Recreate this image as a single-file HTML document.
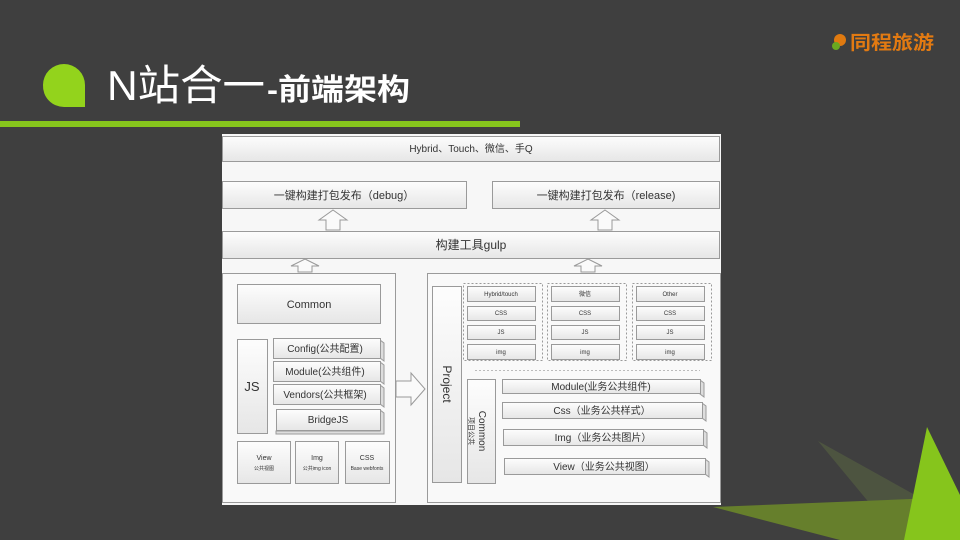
<!DOCTYPE html>
<html><head><meta charset="utf-8"><style>
body{margin:0;width:960px;height:540px;overflow:hidden;background:#3f3f3f;font-family:"Liberation Sans","Noto Sans CJK SC",sans-serif;}
svg{position:absolute;left:0;top:0}
</style></head><body>
<svg width="960" height="540" viewBox="0 0 960 540" xmlns="http://www.w3.org/2000/svg" font-family="Liberation Sans, Noto Sans CJK SC, sans-serif">
<defs>
<linearGradient id="g" x1="0" y1="0" x2="0" y2="1"><stop offset="0" stop-color="#fdfdfd"/><stop offset="1" stop-color="#e6e6e6"/></linearGradient>
</defs>
<rect width="960" height="540" fill="#3f3f3f"/>
<polygon points="818,441 960,520 960,540 900,540" fill="#4d5440"/>
<polygon points="713,507 960,497 960,540 840,540" fill="#667f2c"/>
<polygon points="927,427 960,495 960,540 904,540" fill="#86c51c"/>
<path d="M43,85 A21,21 0 0 1 85,85 L85,107 L64,107 A21,21 0 0 1 43,85 Z" fill="#93d31c"/>
<text x="107" y="100" font-size="42" fill="#fff" textLength="158" lengthAdjust="spacingAndGlyphs">N站合一</text>
<text x="267" y="100" font-size="30" font-weight="bold" fill="#fff" textLength="143" lengthAdjust="spacingAndGlyphs">-前端架构</text>
<rect x="0" y="121" width="520" height="6" fill="#86c51c"/>
<circle cx="840" cy="40" r="6" fill="#e07a10"/>
<circle cx="836" cy="46" r="4" fill="#6aa820"/>
<text x="850" y="49" font-size="19" font-weight="bold" fill="#e27a12" textLength="84" lengthAdjust="spacingAndGlyphs">同程旅游</text>
<rect x="222" y="134" width="499" height="371" fill="#f7f7f7"/>
<g stroke="#9a9a9a" stroke-width="1" fill="url(#g)">
<rect x="222.5" y="136.5" width="497" height="25"/>
<rect x="222.5" y="181.5" width="244" height="27"/>
<rect x="492.5" y="181.5" width="227" height="27"/>
<rect x="222.5" y="231.5" width="497" height="27"/>
<rect x="222.5" y="273.5" width="173" height="229" fill="#f9f9f9"/>
<rect x="427.5" y="273.5" width="293" height="229" fill="#f9f9f9"/>
<rect x="237.5" y="284.5" width="143" height="39"/>
<rect x="237.5" y="339.5" width="30" height="94"/>
<rect x="237.5" y="441.5" width="53" height="42"/>
<rect x="295.5" y="441.5" width="43" height="42"/>
<rect x="345.5" y="441.5" width="44" height="42"/>
<rect x="432.5" y="286.5" width="29" height="196"/>
<rect x="467.5" y="379.5" width="28" height="104"/>
</g>
<g stroke="#9a9a9a" fill="url(#g)">
<polygon points="380,340 384,343 384,361 380,358" fill="#ddd"/>
<rect x="273.5" y="338.5" width="107" height="20"/>
<polygon points="380,362 384,365 384,384 380,381" fill="#ddd"/>
<rect x="273.5" y="361.5" width="107" height="20"/>
<polygon points="380,385 384,388 384,407 380,404" fill="#ddd"/>
<rect x="273.5" y="384.5" width="107" height="20"/>
<polygon points="380,410 384,413 384,434 276,434 276,431 380,431" fill="#ddd"/>
<rect x="276.5" y="409.5" width="104" height="21"/>
<polygon points="700,380 704,383 704,397 700,394" fill="#ddd"/>
<rect x="502.5" y="379.5" width="198" height="14"/>
<polygon points="702,403 706,406 706,421 702,418" fill="#ddd"/>
<rect x="502.5" y="402.5" width="200" height="16"/>
<polygon points="703,430 707,433 707,448 703,445" fill="#ddd"/>
<rect x="503.5" y="429.5" width="200" height="16"/>
<polygon points="705,459 709,462 709,477 705,474" fill="#ddd"/>
<rect x="504.5" y="458.5" width="201" height="16"/>
</g>
<g stroke="#999" stroke-dasharray="2,2" fill="none">
<rect x="463.5" y="283.5" width="79" height="77"/>
<rect x="547.5" y="283.5" width="79" height="77"/>
<rect x="632.5" y="283.5" width="79" height="77"/>
<line x1="475" y1="370.5" x2="700" y2="370.5" stroke="#bbb"/>
</g>
<g stroke="#9a9a9a" fill="url(#g)">
<rect x="467.5" y="286.5" width="68" height="15"/><rect x="467.5" y="306.5" width="68" height="14"/><rect x="467.5" y="325.5" width="68" height="14"/><rect x="467.5" y="344.5" width="68" height="15"/>
<rect x="551.5" y="286.5" width="68" height="15"/><rect x="551.5" y="306.5" width="68" height="14"/><rect x="551.5" y="325.5" width="68" height="14"/><rect x="551.5" y="344.5" width="68" height="15"/>
<rect x="636.5" y="286.5" width="68" height="15"/><rect x="636.5" y="306.5" width="68" height="14"/><rect x="636.5" y="325.5" width="68" height="14"/><rect x="636.5" y="344.5" width="68" height="15"/>
</g>
<g fill="#fafafa" stroke="#999">
<polygon points="333,210 347,220 340,220 340,230 326,230 326,220 319,220"/>
<polygon points="605,210 619,220 612,220 612,230 598,230 598,220 591,220"/>
<polygon points="305,259 319,266 312,266 312,272 298,272 298,266 291,266"/>
<polygon points="588,259 602,266 595,266 595,272 581,272 581,266 574,266"/>
<polygon points="396,381 411,381 411,373 425,389 411,405 411,397 396,397"/>
</g>
<g fill="#333" text-anchor="middle" font-size="10">
<text x="471" y="152">Hybrid、Touch、微信、手Q</text>
<text x="344" y="199" font-size="11">一键构建打包发布（debug）</text>
<text x="606" y="199" font-size="11">一键构建打包发布（release)</text>
<text x="471" y="249" font-size="12">构建工具gulp</text>
<text x="309" y="308" font-size="11">Common</text>
<text x="252" y="391" font-size="13">JS</text>
<text x="325" y="352">Config(公共配置)</text>
<text x="325" y="375">Module(公共组件)</text>
<text x="325" y="398">Vendors(公共框架)</text>
<text x="328" y="423">BridgeJS</text>
<text x="264" y="460" font-size="7">View</text><text x="264" y="470" font-size="5">公共视图</text>
<text x="317" y="460" font-size="7">Img</text><text x="317" y="470" font-size="5">公共img icon</text>
<text x="367" y="460" font-size="7">CSS</text><text x="367" y="470" font-size="5">Base webfonts</text>
<text transform="translate(443,384) rotate(90)" font-size="12">Project</text>
<text transform="translate(479,431) rotate(90)" font-size="10">Common</text>
<text transform="translate(469,431) rotate(90)" font-size="7">项目公共</text>
<g font-size="6">
<text x="501" y="296">Hybrid/touch</text><text x="501" y="315">CSS</text><text x="501" y="334">JS</text><text x="501" y="354">img</text>
<text x="585" y="296">微信</text><text x="585" y="315">CSS</text><text x="585" y="334">JS</text><text x="585" y="354">img</text>
<text x="670" y="296">Other</text><text x="670" y="315">CSS</text><text x="670" y="334">JS</text><text x="670" y="354">img</text>
</g>
<text x="601" y="390">Module(业务公共组件)</text>
<text x="602" y="414">Css（业务公共样式）</text>
<text x="603" y="441">Img（业务公共图片）</text>
<text x="604" y="470">View（业务公共视图）</text>
</g>
</svg>
</body></html>
